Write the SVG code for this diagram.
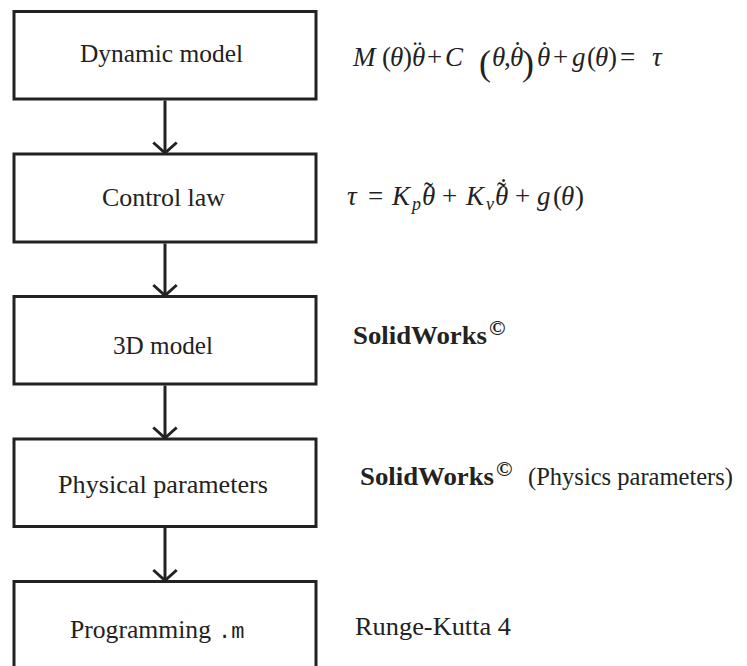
<svg xmlns="http://www.w3.org/2000/svg" width="747" height="666" viewBox="0 0 747 666">
  <style>
    .box { fill: #fff; stroke: #222; stroke-width: 3; }
    .conn { stroke: #222; stroke-width: 3; fill: none; marker-end: url(#chev); }
    .lbl { font-family: "Liberation Serif", "Times New Roman", serif; font-size: 25px; fill: #222; }
    .m { font-family: "Liberation Serif", "Times New Roman", serif; font-size: 27px; fill: #222; }
    .note { font-family: "Liberation Serif", "Times New Roman", serif; font-size: 25px; fill: #222; }
    .it { font-style: italic; }
    .bf { font-weight: bold; }
    .tt { font-family: "Liberation Mono", "Courier New", monospace; font-size: 22px; }
    .big { font-size: 36px; }
    .sub { font-size: 18px; }
  </style>
  <defs>
    <!-- open chevron arrowhead, tip at the end of the line -->
    <marker id="chev" markerUnits="userSpaceOnUse" viewBox="-14 -14 16 28" refX="0" refY="0" markerWidth="16" markerHeight="28" orient="auto" overflow="visible">
      <path d="M -10.5 -11.7 L 0 0 L -10.5 11.7" fill="none" stroke="#222" stroke-width="3"/>
    </marker>
  </defs>

  <!-- connectors -->
  <g id="connectors">
    <line class="conn" x1="165" y1="100.5" x2="165" y2="153"/>
    <line class="conn" x1="165" y1="243.5" x2="165" y2="295.5"/>
    <line class="conn" x1="165" y1="385.5" x2="165" y2="438"/>
    <line class="conn" x1="165" y1="528" x2="165" y2="580.5"/>
  </g>

  <!-- process boxes -->
  <g id="dynamic-model">
    <rect class="box" x="14" y="11.5" width="302" height="87.5"/>
    <text class="lbl" x="80" y="62" textLength="163" lengthAdjust="spacingAndGlyphs">Dynamic model</text>
  </g>
  <g id="control-law">
    <rect class="box" x="14" y="154" width="302" height="88"/>
    <text class="lbl" x="102" y="206" textLength="123" lengthAdjust="spacingAndGlyphs">Control law</text>
  </g>
  <g id="model-3d">
    <rect class="box" x="14" y="296.5" width="302" height="87.5"/>
    <text class="lbl" x="113" y="354" textLength="100" lengthAdjust="spacingAndGlyphs">3D model</text>
  </g>
  <g id="physical-parameters">
    <rect class="box" x="14" y="439" width="302" height="87.5"/>
    <text class="lbl" x="58" y="493" textLength="210" lengthAdjust="spacingAndGlyphs">Physical parameters</text>
  </g>
  <g id="programming">
    <rect class="box" x="14" y="581.5" width="302" height="100"/>
    <text class="lbl" y="638"><tspan x="70" textLength="141" lengthAdjust="spacingAndGlyphs">Programming</tspan><tspan class="tt" x="218">.m</tspan></text>
  </g>

  <!-- equation of motion; accents are separate glyphs raised over the thetas -->
  <g id="eq-dynamics" class="m">
    <text><tspan class="it" x="353" y="66">M</tspan><tspan x="382" y="66">(</tspan><tspan class="it" x="390" y="66">θ</tspan><tspan x="403" y="66">)</tspan><tspan class="it" x="412" y="66">θ</tspan><tspan x="413" y="60">¨</tspan><tspan x="427" y="66">+</tspan><tspan class="it" x="445" y="66">C</tspan><tspan class="big" x="479" y="75">(</tspan><tspan class="it" x="492" y="66">θ</tspan><tspan x="504" y="66">,</tspan><tspan class="it" x="510" y="66">θ</tspan><tspan x="513" y="60">˙</tspan><tspan class="big" x="522" y="75">)</tspan><tspan class="it" x="537" y="66">θ</tspan><tspan x="540" y="60">˙</tspan><tspan x="553" y="66">+</tspan><tspan class="it" x="572" y="66">g</tspan><tspan x="587" y="66">(</tspan><tspan class="it" x="595" y="66">θ</tspan><tspan x="608" y="66">)</tspan><tspan x="620" y="66">=</tspan><tspan class="it" x="652" y="66">τ</tspan></text>
  </g>

  <!-- PD control law with gravity compensation -->
  <g id="eq-control" class="m">
    <text><tspan class="it" x="347" y="205">τ</tspan><tspan x="368" y="205">=</tspan><tspan class="it" x="392" y="205">K</tspan><tspan class="it sub" x="412" y="210">p</tspan><tspan class="it" x="422" y="205">θ</tspan><tspan x="424" y="201">˜</tspan><tspan x="442" y="205">+</tspan><tspan class="it" x="466" y="205">K</tspan><tspan class="it sub" x="486" y="210">v</tspan><tspan class="it" x="495" y="205">θ</tspan><tspan x="497" y="201">˜</tspan><tspan x="499" y="197">˙</tspan><tspan x="515" y="205">+</tspan><tspan class="it" x="537" y="205">g</tspan><tspan x="553" y="205">(</tspan><tspan class="it" x="561" y="205">θ</tspan><tspan x="575" y="205">)</tspan></text>
  </g>

  <!-- side notes -->
  <g id="note-solidworks" class="note">
    <text class="bf"><tspan x="353" y="344" textLength="134" lengthAdjust="spacingAndGlyphs">SolidWorks</tspan><tspan x="489" y="335" style="font-size:22px">©</tspan></text>
  </g>
  <g id="note-solidworks-physics" class="note">
    <text class="bf"><tspan x="360" y="485" textLength="134" lengthAdjust="spacingAndGlyphs">SolidWorks</tspan><tspan x="496" y="476" style="font-size:22px">©</tspan><tspan x="528" y="485" style="font-weight:normal" textLength="205" lengthAdjust="spacingAndGlyphs">(Physics parameters)</tspan></text>
  </g>
  <g id="note-rk4" class="note">
    <text x="355" y="635" textLength="156" lengthAdjust="spacingAndGlyphs">Runge-Kutta 4</text>
  </g>
</svg>
